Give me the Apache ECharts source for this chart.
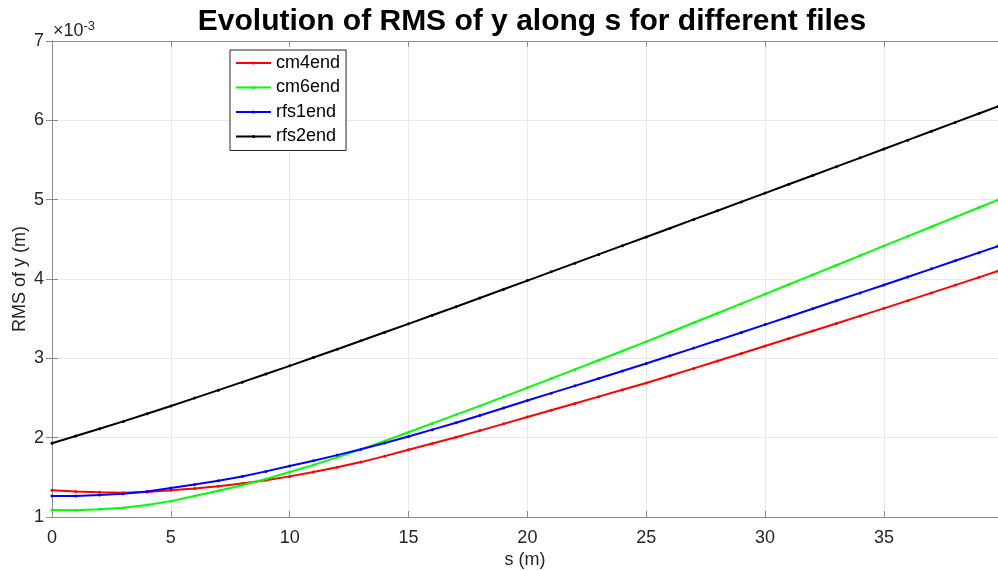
<!DOCTYPE html>
<html>
<head>
<meta charset="utf-8">
<script src="https://cdn.jsdelivr.net/npm/echarts@6/dist/echarts.min.js"></script>
<style>
html,body{margin:0;padding:0;background:#fff;}
#chart{width:998px;height:571px;}
</style>
</head>
<body>
<div id="chart"></div>
<script>
// Position along the line (m); samples every metre, last one at the end of the run
const sValues = [0,1,2,3,4,5,6,7,8,9,10,11,12,13,14,15,16,17,18,19,20,21,22,23,24,25,26,27,28,29,30,31,32,33,34,35,36,37,38,39,39.8];

// RMS of y, in units of 1e-3 m
const cm4end = [1.336,1.322,1.311,1.307,1.316,1.336,1.360,1.389,1.423,1.464,1.512,1.566,1.626,1.692,1.767,1.848,1.926,2.006,2.089,2.174,2.260,2.345,2.431,2.517,2.603,2.690,2.781,2.873,2.966,3.060,3.155,3.250,3.345,3.440,3.535,3.630,3.727,3.825,3.923,4.021,4.100];
const cm6end = [1.088,1.084,1.097,1.117,1.151,1.200,1.265,1.330,1.400,1.480,1.567,1.657,1.752,1.852,1.958,2.068,2.180,2.290,2.400,2.515,2.630,2.745,2.860,2.976,3.093,3.210,3.329,3.448,3.568,3.689,3.810,3.931,4.052,4.173,4.295,4.417,4.538,4.659,4.780,4.901,4.997];
const rfs1end = [1.265,1.265,1.277,1.294,1.320,1.365,1.410,1.458,1.510,1.575,1.643,1.710,1.780,1.854,1.932,2.015,2.101,2.189,2.279,2.373,2.468,2.561,2.653,2.746,2.840,2.935,3.032,3.129,3.227,3.326,3.425,3.525,3.625,3.725,3.825,3.925,4.026,4.128,4.230,4.332,4.415];
const rfs2end = [1.930,2.020,2.112,2.205,2.302,2.400,2.499,2.599,2.700,2.802,2.905,3.010,3.115,3.221,3.328,3.435,3.543,3.651,3.760,3.870,3.980,4.090,4.200,4.310,4.420,4.530,4.640,4.751,4.861,4.972,5.083,5.194,5.305,5.416,5.527,5.638,5.750,5.862,5.974,6.086,6.175];

const seriesNames = ['cm4end','cm6end','rfs1end','rfs2end'];
const seriesValues = [cm4end, cm6end, rfs1end, rfs2end];
const seriesColors = ['#ff0000','#00ff00','#0000ff','#000000'];

const xTicks = [0,5,10,15,20,25,30,35];
const yTicks = [1,2,3,4,5,6,7];

const FONT = '"Liberation Sans", Arial, Helvetica, sans-serif';
const X_MIN = 0, X_MAX = 39.8, Y_MIN = 1, Y_MAX = 7;

const chart = echarts.init(document.getElementById('chart'), null, {renderer: 'canvas'});

const axisLineStyle = {color: '#8c8c8c', width: 1};
const gridLineStyle = {color: '#e8e8e8', width: 1};

const option = {
  backgroundColor: '#ffffff',
  animation: false,
  title: {
    text: 'Evolution of RMS of y along s for different files',
    left: 527, top: 2, textAlign: 'center',
    textStyle: {fontFamily: FONT, fontSize: 30, fontWeight: 'bold', color: '#000'}
  },
  grid: {left: 52, right: 0, top: 41, bottom: 54, containLabel: false, outerBoundsMode: 'none'},
  legend: {
    orient: 'vertical',
    left: 230, top: 50,
    data: seriesNames,
    itemWidth: 35, itemHeight: 4, itemGap: 4.5,
    padding: [3, 6, 4, 5],
    backgroundColor: '#fff',
    borderColor: '#262626', borderWidth: 1,
    textStyle: {fontFamily: FONT, fontSize: 18, lineHeight: 20, color: '#000'}
  },
  xAxis: [{
    type: 'value', min: X_MIN, max: X_MAX, interval: 5,
    name: 's (m)', nameLocation: 'middle', nameGap: 34, nameMoveOverlap: false,
    nameTextStyle: {fontFamily: FONT, fontSize: 18, color: '#262626'},
    axisLine: {show: true, lineStyle: axisLineStyle},
    axisTick: {show: true, inside: true, length: 6, lineStyle: axisLineStyle},
    axisLabel: {fontFamily: FONT, fontSize: 18, color: '#262626', margin: 12, showMaxLabel: false,
      formatter: v => (xTicks.indexOf(v) >= 0 ? String(v) : '')},
    splitLine: {show: true, lineStyle: gridLineStyle}
  }, {
    type: 'value', min: X_MIN, max: X_MAX, interval: 5, position: 'top',
    axisLine: {show: true, lineStyle: axisLineStyle},
    axisTick: {show: true, inside: true, length: 6, lineStyle: axisLineStyle},
    axisLabel: {show: false}, splitLine: {show: false}
  }],
  yAxis: [{
    type: 'value', min: Y_MIN, max: Y_MAX, interval: 1,
    name: 'RMS of y (m)', nameLocation: 'middle', nameGap: 23, nameMoveOverlap: false,
    nameTextStyle: {fontFamily: FONT, fontSize: 18, color: '#262626'},
    axisLine: {show: true, lineStyle: axisLineStyle},
    axisTick: {show: true, inside: true, length: 6, lineStyle: axisLineStyle},
    axisLabel: {fontFamily: FONT, fontSize: 18, color: '#262626', margin: 8,
      formatter: v => (yTicks.indexOf(v) >= 0 ? String(v) : '')},
    splitLine: {show: true, lineStyle: gridLineStyle}
  }, {
    type: 'value', min: Y_MIN, max: Y_MAX, interval: 1, position: 'right',
    axisLine: {show: true, lineStyle: axisLineStyle},
    axisTick: {show: true, inside: true, length: 6, lineStyle: axisLineStyle},
    axisLabel: {show: false}, splitLine: {show: false}
  }],
  graphic: [{
    type: 'text', left: 53, top: 20,
    style: {
      text: '{a|×10}{b|-3}',
      rich: {
        a: {fontFamily: FONT, fontSize: 18, fill: '#262626', verticalAlign: 'bottom', lineHeight: 20},
        b: {fontFamily: FONT, fontSize: 13, fill: '#262626', verticalAlign: 'top', lineHeight: 20, padding: [0,0,9,0]}
      }
    }
  }],
  series: seriesNames.map((name, k) => ({
    name: name,
    type: 'line',
    data: sValues.map((s, i) => [s, seriesValues[k][i]]),
    showSymbol: true,
    symbol: 'circle', symbolSize: 3,
    itemStyle: {color: seriesColors[k]},
    lineStyle: {color: seriesColors[k], width: 2},
    clip: true
  }))
};

chart.setOption(option);
</script>
</body>
</html>
